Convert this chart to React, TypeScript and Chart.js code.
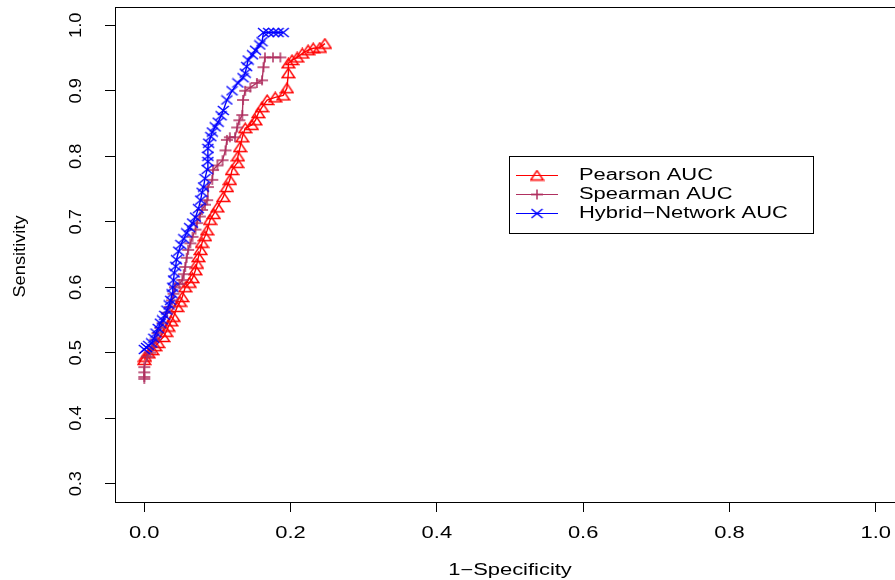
import React, { useEffect, useRef } from "react";
import { Chart, registerables } from "chart.js";

Chart.register(...registerables);

// ---- data ----
const pearsonFpr = [0.000, 0.001, 0.006, 0.011, 0.015, 0.019, 0.026, 0.030, 0.033, 0.037, 0.040, 0.045, 0.049, 0.052, 0.056, 0.062, 0.066, 0.070, 0.072, 0.074, 0.077, 0.079, 0.083, 0.086, 0.090, 0.095, 0.100, 0.108, 0.113, 0.117, 0.120, 0.127, 0.128, 0.131, 0.134, 0.138, 0.147, 0.152, 0.156, 0.161, 0.168, 0.179, 0.190, 0.195, 0.197, 0.197, 0.202, 0.209, 0.216, 0.224, 0.231, 0.240, 0.247];
const pearsonTpr = [0.489, 0.494, 0.499, 0.504, 0.510, 0.515, 0.524, 0.532, 0.540, 0.548, 0.555, 0.570, 0.578, 0.585, 0.600, 0.607, 0.614, 0.626, 0.636, 0.646, 0.657, 0.668, 0.678, 0.687, 0.703, 0.712, 0.722, 0.738, 0.753, 0.764, 0.779, 0.790, 0.800, 0.814, 0.829, 0.843, 0.848, 0.855, 0.866, 0.875, 0.886, 0.890, 0.893, 0.904, 0.927, 0.942, 0.947, 0.951, 0.957, 0.962, 0.965, 0.966, 0.972];

const spearmanFpr = [0.000, 0.000, 0.000, 0.000, 0.004, 0.008, 0.011, 0.015, 0.018, 0.022, 0.025, 0.031, 0.035, 0.038, 0.040, 0.042, 0.048, 0.052, 0.054, 0.056, 0.058, 0.060, 0.063, 0.066, 0.070, 0.072, 0.076, 0.079, 0.083, 0.086, 0.087, 0.093, 0.094, 0.100, 0.107, 0.111, 0.113, 0.117, 0.124, 0.127, 0.130, 0.134, 0.135, 0.138, 0.145, 0.154, 0.161, 0.163, 0.165, 0.176, 0.186];
const spearmanTpr = [0.460, 0.463, 0.470, 0.478, 0.494, 0.500, 0.509, 0.520, 0.530, 0.538, 0.545, 0.561, 0.570, 0.580, 0.590, 0.600, 0.605, 0.611, 0.620, 0.631, 0.645, 0.657, 0.667, 0.677, 0.688, 0.698, 0.708, 0.718, 0.726, 0.733, 0.753, 0.764, 0.779, 0.786, 0.794, 0.809, 0.825, 0.829, 0.829, 0.844, 0.855, 0.863, 0.886, 0.900, 0.905, 0.912, 0.916, 0.936, 0.951, 0.951, 0.951];

const hybridFpr = [0.000, 0.003, 0.006, 0.010, 0.013, 0.016, 0.019, 0.022, 0.025, 0.028, 0.031, 0.034, 0.036, 0.038, 0.039, 0.040, 0.041, 0.043, 0.044, 0.047, 0.050, 0.054, 0.058, 0.062, 0.066, 0.070, 0.074, 0.077, 0.079, 0.081, 0.083, 0.086, 0.087, 0.087, 0.087, 0.088, 0.091, 0.093, 0.097, 0.101, 0.105, 0.108, 0.113, 0.120, 0.128, 0.135, 0.138, 0.140, 0.142, 0.148, 0.152, 0.158, 0.161, 0.163, 0.170, 0.177, 0.183, 0.190];
const hybridTpr = [0.505, 0.508, 0.511, 0.515, 0.522, 0.530, 0.537, 0.545, 0.550, 0.557, 0.565, 0.573, 0.580, 0.590, 0.600, 0.611, 0.622, 0.632, 0.642, 0.655, 0.665, 0.674, 0.683, 0.691, 0.698, 0.707, 0.720, 0.733, 0.745, 0.753, 0.766, 0.780, 0.792, 0.800, 0.812, 0.820, 0.830, 0.837, 0.845, 0.852, 0.862, 0.870, 0.886, 0.900, 0.912, 0.920, 0.927, 0.937, 0.947, 0.955, 0.962, 0.970, 0.975, 0.989, 0.989, 0.989, 0.989, 0.989];

const seriesNames = ["Pearson AUC", "Spearman AUC", "Hybrid\u2212Network AUC"];
const seriesColors = ["#FF0000", "#B03060", "#0000FF"];

const xTickValues = [0, 0.2, 0.4, 0.6, 0.8, 1.0];
const xTickLabels = ["0.0", "0.2", "0.4", "0.6", "0.8", "1.0"];
const yTickValues = [0.3, 0.4, 0.5, 0.6, 0.7, 0.8, 0.9, 1.0];
const yTickLabels = ["0.3", "0.4", "0.5", "0.6", "0.7", "0.8", "0.9", "1.0"];
const xTitle = "1\u2212Specificity";
const yTitle = "Sensitivity";

const FONT = '16px "Liberation Sans", Arial, Helvetica, sans-serif';
const SX_H = 1.37; // horizontal text stretch
const SX_V = 1.14; // vertical text stretch along its length

function makeMarker(kind: string, color: string): HTMLCanvasElement {
  const c = document.createElement("canvas");
  if (kind === "triangle") { c.width = 15; c.height = 12; }
  else if (kind === "plus") { c.width = 14; c.height = 12; }
  else { c.width = 13; c.height = 11; }
  const g = c.getContext("2d")!;
  g.strokeStyle = color;
  g.lineWidth = 1.5;
  g.beginPath();
  if (kind === "triangle") {
    g.moveTo(7.5, 1.2);
    g.lineTo(1.2, 10.5);
    g.lineTo(13.8, 10.5);
    g.closePath();
  } else if (kind === "plus") {
    g.moveTo(1, 6); g.lineTo(13, 6);
    g.moveTo(7, 1); g.lineTo(7, 11);
  } else {
    g.moveTo(1, 1); g.lineTo(12, 10);
    g.moveTo(12, 1); g.lineTo(1, 10);
  }
  g.stroke();
  return c;
}

function drawText(ctx: CanvasRenderingContext2D, text: string, x: number, y: number, stretch: number, rot: number, align: CanvasTextAlign, baseline: CanvasTextBaseline) {
  ctx.save();
  ctx.translate(x, y);
  ctx.rotate(rot);
  ctx.scale(stretch, 1);
  ctx.font = FONT;
  ctx.fillStyle = "#000";
  ctx.textAlign = align;
  ctx.textBaseline = baseline;
  ctx.fillText(text, 0, 0);
  ctx.restore();
}

function zip(xs: number[], ys: number[]) {
  return xs.map((v, i) => ({ x: v, y: ys[i] }));
}

export default function App() {
  const ref = useRef<HTMLCanvasElement | null>(null);

  useEffect(() => {
    if (!ref.current) return;
    const markers = [
      makeMarker("triangle", seriesColors[0]),
      makeMarker("plus", seriesColors[1]),
      makeMarker("x", seriesColors[2]),
    ];

    const decor = {
      id: "rdecor",
      afterDraw(chart: any) {
        const ctx: CanvasRenderingContext2D = chart.ctx;
        const { left, top, right, bottom } = chart.chartArea;
        const xs = chart.scales.x;
        const ys = chart.scales.y;
        ctx.save();
        ctx.strokeStyle = "#000";
        ctx.lineWidth = 1;
        ctx.strokeRect(left + 0.5, top + 0.5, right - left, bottom - top);

        xTickValues.forEach((v, i) => {
          drawText(ctx, xTickLabels[i], xs.getPixelForValue(v), 538, SX_H, 0, "center", "alphabetic");
        });
        yTickValues.forEach((v, i) => {
          drawText(ctx, yTickLabels[i], 81, ys.getPixelForValue(v), SX_V, -Math.PI / 2, "center", "alphabetic");
        });
        drawText(ctx, xTitle, (left + right) / 2, 575, SX_H, 0, "center", "alphabetic");
        drawText(ctx, yTitle, 25, (top + bottom) / 2 + 2, SX_V, -Math.PI / 2, "center", "alphabetic");

        // legend
        const lx = 509, ly = 156, lw = 304, lh = 77;
        ctx.fillStyle = "#fff";
        ctx.fillRect(lx + 0.5, ly + 0.5, lw, lh);
        ctx.strokeStyle = "#000";
        ctx.lineWidth = 1;
        ctx.strokeRect(lx + 0.5, ly + 0.5, lw, lh);
        const rows = [175, 194, 213];
        rows.forEach((ry, i) => {
          ctx.strokeStyle = seriesColors[i];
          ctx.lineWidth = 1;
          ctx.beginPath();
          ctx.moveTo(516, ry + 0.5);
          ctx.lineTo(558, ry + 0.5);
          ctx.stroke();
          const m = markers[i];
          ctx.drawImage(m, 537 - m.width / 2, ry + 0.5 - m.height / 2);
          drawText(ctx, seriesNames[i], 579, ry + 1, SX_H, 0, "left", "middle");
        });
        ctx.restore();
      },
    };

    const mk = (i: number, data: any[], order: number) => ({
      label: seriesNames[i],
      data,
      showLine: true,
      borderColor: seriesColors[i],
      backgroundColor: "rgba(0,0,0,0)",
      borderWidth: 1.4,
      tension: 0,
      pointStyle: markers[i],
      pointRadius: 5,
      pointHoverRadius: 5,
      order,
    });

    const chart = new Chart(ref.current, {
      type: "scatter",
      data: {
        datasets: [
          mk(0, zip(pearsonFpr, pearsonTpr), 3),
          mk(1, zip(spearmanFpr, spearmanTpr), 2),
          mk(2, zip(hybridFpr, hybridTpr), 1),
        ],
      },
      options: {
        responsive: false,
        animation: false,
        events: [],
        layout: { padding: { left: 0, right: 15, top: 7, bottom: 0 } },
        plugins: { legend: { display: false }, tooltip: { enabled: false } },
        scales: {
          x: {
            type: "linear",
            position: "bottom",
            min: -0.04,
            max: 1.04,
            afterBuildTicks: (s: any) => { s.ticks = xTickValues.map((v) => ({ value: v })); },
            afterFit: (s: any) => { s.height = 78; },
            ticks: { display: false },
            border: { display: false },
            grid: { drawOnChartArea: false, drawTicks: true, tickLength: 10, color: "#000", lineWidth: 1 },
          },
          y: {
            type: "linear",
            position: "left",
            min: 0.272,
            max: 1.028,
            afterBuildTicks: (s: any) => { s.ticks = yTickValues.map((v) => ({ value: v })); },
            afterFit: (s: any) => { s.width = 115; },
            ticks: { display: false },
            border: { display: false },
            grid: { drawOnChartArea: false, drawTicks: true, tickLength: 10, color: "#000", lineWidth: 1 },
          },
        },
      },
      plugins: [decor],
    } as any);

    return () => chart.destroy();
  }, []);

  return (
    <div style={{ position: "fixed", left: 0, top: 0, width: 895, height: 580, overflow: "hidden", background: "#fff" }}>
      <canvas ref={ref} width={920} height={580} style={{ width: 920, height: 580, display: "block" }} />
    </div>
  );
}
